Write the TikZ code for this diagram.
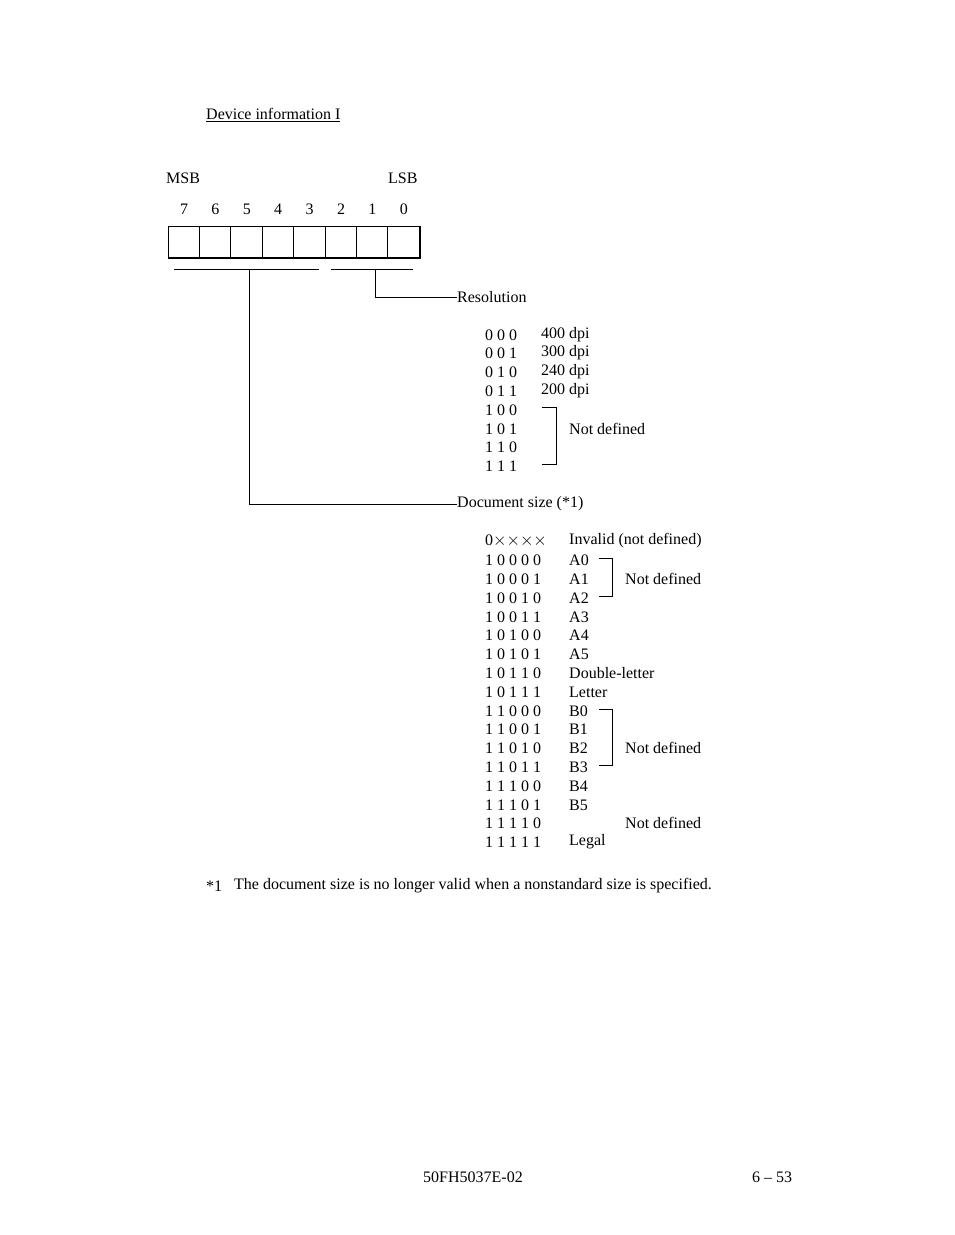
\documentclass[tikz,border=0pt]{standalone}
\usepackage{fontspec}
\setmainfont{Liberation Serif}
\begin{document}
\begin{tikzpicture}[x=1pt,y=-1pt,
  t/.style={anchor=west,inner sep=0pt,font=\fontsize{16}{18}\selectfont},
  ln/.style={line width=0.8pt}]
\useasboundingbox (0,0) rectangle (954,1235);
\node[t] (title) at (206,115) {\underline{Device information I}};
\node[t] (msb) at (166,178) {MSB};
\node[t] (lsb) at (388,178) {LSB};
\foreach \b [count=\i from 0] in {7,6,5,4,3,2,1,0}{
  \node[inner sep=0pt,font=\fontsize{16}{18}\selectfont] (n\b) at (184+\i*31.4,209) {\b};
  \draw[ln] (168+\i*31.4,226) rectangle (168+\i*31.4+31.4,257);
}
\draw[line width=2pt] (168,257.5) -- (419.5,257.5) -- (419.5,226);
\coordinate (ua) at (174,269); \coordinate (ub) at (319,269);
\coordinate (uc) at (331,269); \coordinate (ud) at (413,269);
\draw[ln] (ua) -- (ub); \draw[ln] (uc) -- (ud);
\coordinate (va) at (249,269); \coordinate (vb) at (375,269);
\node[t] (res) at (457,297) {Resolution};
\node[t] (doc) at (457,504) {Document size (*1)};
\draw[ln] (vb) |- (res.west);
\draw[ln] (va) |- (doc.west);
% resolution table
\foreach \c/\d/\y in {0 0 0/400 dpi/335,0 0 1/300 dpi/353,0 1 0/240 dpi/372,0 1 1/200 dpi/391}{
  \node[t] at (485,\y) {\c}; \node[t] at (541,\y) {\d};}
\foreach \c/\y in {1 0 0/410,1 0 1/429,1 1 0/447,1 1 1/466}{\node[t] at (485,\y) {\c};}
\draw[ln] (542,407) -- (556,407) -- (556,464) -- (542,464);
\node[t] (nd1) at (569,429) {Not defined};
% document size table
\foreach \c/\d/\y in {0$\times$$\times$$\times$$\times$/Invalid (not defined)/541,
 1 0 0 0 0/A0/560,1 0 0 0 1/A1/579,1 0 0 1 0/A2/598,1 0 0 1 1/A3/617,
 1 0 1 0 0/A4/635,1 0 1 0 1/A5/654,1 0 1 1 0/Double-letter/673,1 0 1 1 1/Letter/692,
 1 1 0 0 0/B0/711,1 1 0 0 1/B1/729,1 1 0 1 0/B2/748,1 1 0 1 1/B3/767,
 1 1 1 0 0/B4/786,1 1 1 0 1/B5/805,1 1 1 1 0//823,1 1 1 1 1/Legal/842}{
  \node[t] at (485,\y) {\c}; \node[t] at (569,\y) {\d};}
\draw[ln] (599,558) -- (612,558) -- (612,596) -- (599,596);
\node[t] (nd2) at (625,579) {Not defined};
\draw[ln] (599,709) -- (612,709) -- (612,765) -- (599,765);
\node[t] (nd3) at (625,748) {Not defined};
\node[t] (nd4) at (625,823) {Not defined};
\node[t] (fn1) at (206,886) {*1};
\node[t] (fn2) at (234,886) {The document size is no longer valid when a nonstandard size is specified.};
\node[t] (pg) at (423,1177) {50FH5037E-02};
\node[t] (pn) at (752,1177) {6 -- 53};
\end{tikzpicture}
\end{document}
